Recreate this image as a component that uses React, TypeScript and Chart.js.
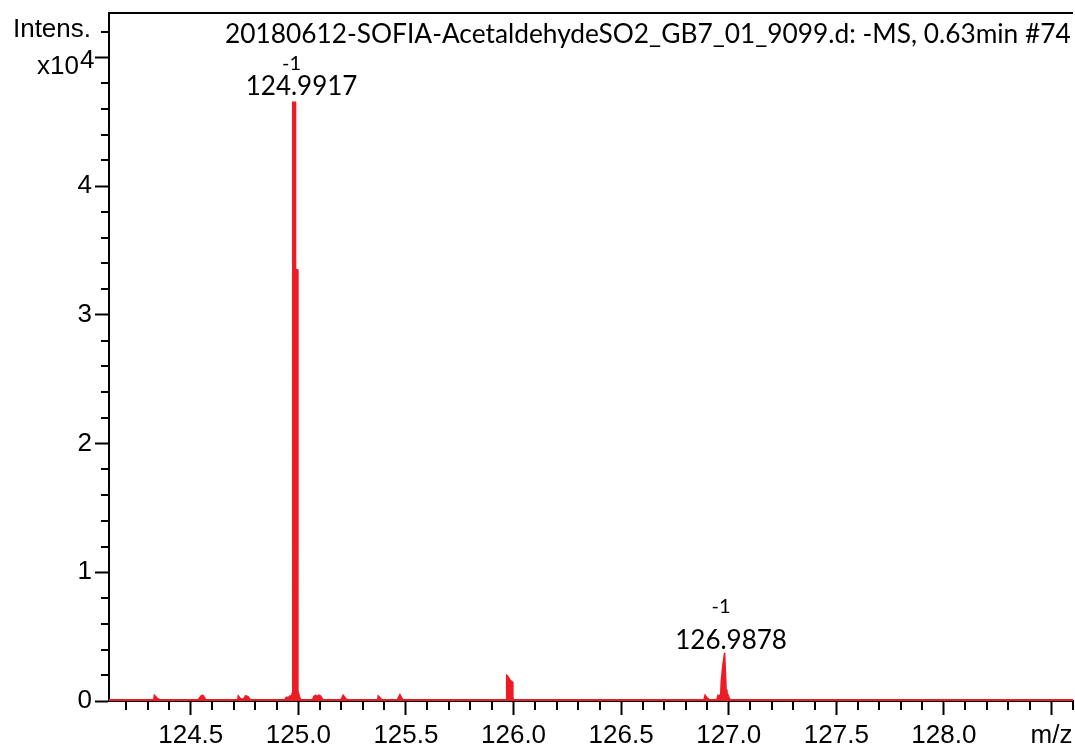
import React, { useEffect, useRef } from 'react';
import { Chart, registerables } from 'chart.js';

Chart.register(...registerables);

// ---- Data ----
const mzValues: number[] = [
  124.12, 124.328, 124.331, 124.345, 124.356,
  124.535, 124.548, 124.556, 124.57,
  124.718, 124.721, 124.732, 124.745, 124.754, 124.765, 124.778,
  124.937, 124.945, 124.953, 124.961, 124.969, 124.971,
  124.974, 124.986, 124.987, 124.996, 124.998, 125.004, 125.01,
  125.066, 125.072, 125.08, 125.088, 125.095, 125.103, 125.112, 125.118,
  125.198, 125.208, 125.222, 125.23,
  125.369, 125.371, 125.385, 125.39,
  125.46, 125.472, 125.485,
  125.966, 125.968, 125.972, 125.985, 125.993, 125.997, 126.0,
  126.885, 126.89, 126.902, 126.91,
  126.945, 126.95, 126.958, 126.963, 126.965, 126.972, 126.981, 126.988, 126.992, 126.996, 127.004, 127.009,
  128.6,
];
const intensityValues: number[] = [
  100, 100, 450, 200, 100,
  100, 400, 450, 100,
  100, 400, 150, 150, 400, 350, 100,
  100, 300, 250, 400, 350, 600,
  46500, 46500, 33500, 33500, 800, 400, 100,
  100, 350, 450, 350, 450, 400, 150, 100,
  100, 450, 150, 100,
  100, 400, 150, 100,
  100, 500, 100,
  100, 2000, 1950, 1600, 1500, 300, 100,
  100, 450, 200, 100,
  100, 450, 400, 550, 1500, 2700, 3750, 900, 600, 500, 150, 100,
  100,
];

const peakLabelMz: number[] = [124.9917, 126.9878];
const peakLabelIntensity: number[] = [46500, 3750];
const peakLabelText: string[] = ['124.9917', '126.9878'];
const peakChargeText: string[] = ['-1', '-1'];

// tick positions (minor every 0.1 m/z and every 0.2e4 intensity)
const xTickTenths: number[] = [
  1242, 1243, 1244, 1245, 1246, 1247, 1248, 1249, 1250, 1251, 1252, 1253, 1254, 1255, 1256,
  1257, 1258, 1259, 1260, 1261, 1262, 1263, 1264, 1265, 1266, 1267, 1268, 1269, 1270, 1271,
  1272, 1273, 1274, 1275, 1276, 1277, 1278, 1279, 1280, 1281, 1282, 1283, 1284, 1285, 1286,
];
const yTickValues: number[] = [
  0, 2000, 4000, 6000, 8000, 10000, 12000, 14000, 16000, 18000, 20000, 22000, 24000, 26000,
  28000, 30000, 32000, 34000, 36000, 38000, 40000, 42000, 44000, 46000, 48000, 50000, 52000,
];

const titleText = '20180612-SOFIA-AcetaldehydeSO2_GB7_01_9099.d: -MS, 0.63min #74';
const yAxisTitle = 'Intens.';
const yExponentBase = 'x10';
const yExponent = '4';
const xAxisTitle = 'm/z';

const X_MIN = 124.12;
const X_MAX = 128.6;
const Y_MAX = 53440;
const Y_UNIT = 10000;

const RED = 'rgb(237,28,36)';
const AXIS_FONT = "'Liberation Sans', Arial, sans-serif";
const LABEL_FONT = "Lato, 'Open Sans', sans-serif";

const isMajorX = (v: number) => Math.abs(v * 2 - Math.round(v * 2)) < 1e-6;
const isMajorY = (v: number) => Math.abs(v / Y_UNIT - Math.round(v / Y_UNIT)) < 1e-6;

const overlayPlugin = {
  id: 'overlay',
  afterDraw(chart: any) {
    const { ctx, chartArea, scales } = chart;
    const xs = scales.x;
    const ys = scales.y;
    ctx.save();
    ctx.strokeStyle = '#000';
    ctx.lineWidth = 2;
    ctx.beginPath();
    ctx.moveTo(chartArea.left - 1, chartArea.top);
    ctx.lineTo(chartArea.right, chartArea.top);
    xs.ticks.forEach((t: any) => {
      if (!isMajorX(t.value)) {
        const px = Math.round(xs.getPixelForValue(t.value));
        ctx.moveTo(px, chartArea.bottom);
        ctx.lineTo(px, chartArea.bottom + 9);
      }
    });
    ys.ticks.forEach((t: any) => {
      if (!isMajorY(t.value)) {
        const py = Math.round(ys.getPixelForValue(t.value));
        ctx.moveTo(chartArea.left - 8, py);
        ctx.lineTo(chartArea.left, py);
      }
    });
    ctx.stroke();

    ctx.fillStyle = '#000';
    ctx.font = `26px ${AXIS_FONT}`;
    ctx.textAlign = 'right';
    ctx.textBaseline = 'alphabetic';
    const p52 = ys.getPixelForValue(52000);
    ctx.fillText(yAxisTitle, 91, p52 + 5);
    const p50 = ys.getPixelForValue(50000);
    ctx.fillText(yExponentBase, 79, p50 + 17);
    ctx.textAlign = 'left';
    ctx.fillText(yExponent, 80, p50 + 11);

    ctx.font = `26.3px ${LABEL_FONT}`;
    ctx.textAlign = 'left';
    ctx.fillText(titleText, 225, 43);

    const chargeOffsets = [25, 36];
    const numberOffsets = [7, 4];
    peakLabelMz.forEach((mz, i) => {
      const px = xs.getPixelForValue(mz);
      const py = ys.getPixelForValue(peakLabelIntensity[i]);
      ctx.textAlign = 'center';
      ctx.font = `26px ${LABEL_FONT}`;
      ctx.fillText(peakLabelText[i], px + 5, py - numberOffsets[i]);
      ctx.font = `20px ${LABEL_FONT}`;
      ctx.fillText(peakChargeText[i], px - 5, py - numberOffsets[i] - chargeOffsets[i]);
    });
    ctx.restore();
  },
};

export default function App() {
  const canvasRef = useRef<HTMLCanvasElement | null>(null);

  useEffect(() => {
    if (!canvasRef.current) return;
    const points = mzValues.map((x, i) => ({ x, y: intensityValues[i] }));
    const chart = new Chart(canvasRef.current, {
      type: 'line',
      data: {
        datasets: [
          {
            data: points,
            borderColor: RED,
            backgroundColor: RED,
            borderWidth: 1.5,
            pointRadius: 0,
            fill: 'origin',
            tension: 0,
          },
        ],
      },
      options: {
        responsive: false,
        animation: false,
        events: [],
        layout: { padding: { top: 13, right: 2, left: 0, bottom: 0 } },
        plugins: {
          legend: { display: false },
          tooltip: { enabled: false },
          title: { display: false },
        },
        scales: {
          x: {
            type: 'linear',
            min: X_MIN,
            max: X_MAX,
            afterBuildTicks: (s: any) => {
              s.ticks = xTickTenths.map((t) => ({ value: t / 10 }));
            },
            afterFit: (s: any) => {
              s.height = 45;
              s.paddingLeft = 0;
              s.paddingRight = 0;
            },
            border: { display: true, color: '#000', width: 2 },
            grid: {
              drawOnChartArea: false,
              drawTicks: true,
              tickLength: 14,
              tickWidth: 2,
              tickColor: (c: any) => (c.tick && isMajorX(c.tick.value) ? '#000' : 'rgba(0,0,0,0)'),
            },
            ticks: {
              autoSkip: false,
              maxRotation: 0,
              minRotation: 0,
              padding: 5,
              color: '#000',
              font: { family: AXIS_FONT, size: 26 },
              callback: (v: any) => {
                const n = Number(v);
                if (!isMajorX(n)) return '';
                if (Math.abs(n - 128.5) < 1e-6) return xAxisTitle;
                return n.toFixed(1);
              },
            },
          },
          y: {
            type: 'linear',
            min: 0,
            max: Y_MAX,
            afterBuildTicks: (s: any) => {
              s.ticks = yTickValues.map((v) => ({ value: v }));
            },
            afterFit: (s: any) => {
              s.width = 109;
              s.paddingTop = 0;
              s.paddingBottom = 0;
            },
            border: { display: true, color: '#000', width: 2 },
            grid: {
              drawOnChartArea: false,
              drawTicks: true,
              tickLength: 14,
              tickWidth: 2,
              tickColor: (c: any) => (c.tick && isMajorY(c.tick.value) ? '#000' : 'rgba(0,0,0,0)'),
            },
            ticks: {
              autoSkip: false,
              padding: 3,
              color: '#000',
              font: { family: AXIS_FONT, size: 26 },
              callback: (v: any) => {
                const n = Number(v);
                if (!isMajorY(n)) return '';
                if (Math.abs(n - 50000) < 1e-6) return '';
                return String(Math.round(n / Y_UNIT));
              },
            },
          },
        },
      },
      plugins: [overlayPlugin],
    });
    return () => chart.destroy();
  }, []);

  return (
    <div style={{ position: 'absolute', left: 0, top: 0, width: 1075, height: 746, background: '#fff' }}>
      <canvas ref={canvasRef} width={1075} height={746} />
    </div>
  );
}
